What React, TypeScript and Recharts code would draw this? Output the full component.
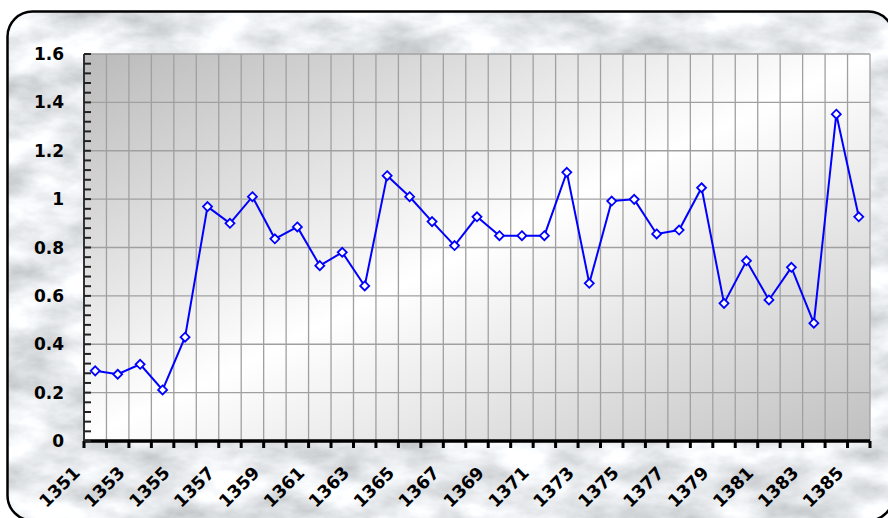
import React from 'react';
import { LineChart, Line, XAxis, YAxis, CartesianGrid } from 'recharts';

// years on the category axis
const years = [
  1351, 1352, 1353, 1354, 1355, 1356, 1357, 1358, 1359, 1360,
  1361, 1362, 1363, 1364, 1365, 1366, 1367, 1368, 1369, 1370,
  1371, 1372, 1373, 1374, 1375, 1376, 1377, 1378, 1379, 1380,
  1381, 1382, 1383, 1384, 1385,
];

// values
const values = [
  0.29, 0.276, 0.317, 0.211, 0.429, 0.969, 0.9, 1.01, 0.836, 0.885,
  0.725, 0.78, 0.641, 1.097, 1.01, 0.907, 0.808, 0.927, 0.849, 0.849,
  0.849, 1.111, 0.652, 0.992, 0.999, 0.856, 0.872, 1.047, 0.569, 0.745,
  0.583, 0.718, 0.487, 1.351, 0.927,
];

// every other year gets a label
const xLabelYears = [
  1351, 1353, 1355, 1357, 1359, 1361, 1363, 1365, 1367,
  1369, 1371, 1373, 1375, 1377, 1379, 1381, 1383, 1385,
];

const yMajorTicks = [0, 0.2, 0.4, 0.6, 0.8, 1, 1.2, 1.4, 1.6];
const yLabels = ['0', '0.2', '0.4', '0.6', '0.8', '1', '1.2', '1.4', '1.6'];

// minor marks every 0.04
const yMinorTicks: number[] = [];
for (let i = 0; i <= 40; i++) yMinorTicks.push(Math.round(i * 4) / 100);

// ticks sit on the boundaries between categories (Excel style)
const xTicks = years.map((y) => y - 0.5).concat([years[years.length - 1] + 0.5]);

const data = years.map((year, i) => ({ year, value: values[i] }));

const FONT = '"DejaVu Sans", "Liberation Sans", Arial, sans-serif';

const YTick = (props: any) => {
  const { x, y, payload } = props;
  const idx = yMajorTicks.findIndex((t) => Math.abs(t - payload.value) < 1e-6);
  return (
    <g>
      <line x1={x} y1={y} x2={x + 7} y2={y} stroke="#222" strokeWidth={2} />
      {idx >= 0 && (
        <text
          x={x - 20}
          y={y + 6}
          textAnchor="end"
          fontFamily={FONT}
          fontWeight="bold"
          fontSize={17}
          fill="#000"
        >
          {yLabels[idx]}
        </text>
      )}
    </g>
  );
};

const XTick = (props: any) => {
  const { x, y, payload } = props;
  const yr = Math.round(payload.value + 0.5);
  if (!xLabelYears.includes(yr)) return <g />;
  const ax = x - 3;
  const ay = y + 24;
  return (
    <text
      x={ax}
      y={ay}
      textAnchor="end"
      transform={`rotate(-45 ${ax} ${ay})`}
      fontFamily={FONT}
      fontWeight="bold"
      fontSize={17.5}
      fill="#000"
    >
      {yr}
    </text>
  );
};

const Diamond = (props: any) => {
  const { cx, cy } = props;
  if (cx == null || cy == null) return <g />;
  const r = 4.5;
  return (
    <path
      d={`M${cx},${cy - r} L${cx + r},${cy} L${cx},${cy + r} L${cx - r},${cy} Z`}
      fill="#ffffff"
      stroke="#0000ff"
      strokeWidth={1.8}
    />
  );
};

export default function App() {
  return (
    <div style={{ position: 'absolute', left: 0, top: 0, width: 888, height: 518, overflow: 'hidden', background: '#fff' }}>
      <svg width={888} height={518} style={{ position: 'absolute', left: 0, top: 0 }}>
        <defs>
          <filter id="marble" x="0" y="0" width="100%" height="100%">
            <feTurbulence type="fractalNoise" baseFrequency="0.016 0.03" numOctaves={5} seed={11} />
            <feColorMatrix
              type="matrix"
              values="0.8 0 0 0 0.41  0.8 0 0 0 0.43  0.8 0 0 0 0.45  0 0 0 0 1"
            />
          </filter>
          <clipPath id="frameClip">
            <rect x={7.5} y={11.5} width={886} height={509} rx={25} />
          </clipPath>
        </defs>
        <g clipPath="url(#frameClip)">
          <rect x={0} y={0} width={888} height={518} filter="url(#marble)" />
        </g>
        <rect x={7.5} y={11.5} width={886} height={509} rx={25} fill="none" stroke="#000" strokeWidth={2.5} />
      </svg>

      <div style={{ position: 'absolute', left: 0, top: 0 }}>
        <LineChart width={888} height={518} data={data} margin={{ top: 54, right: 18, left: 0, bottom: 0 }}>
          <defs>
            <linearGradient id="plotBg" x1="0" y1="0" x2="1" y2="1">
              <stop offset="0%" stopColor="#bababa" />
              <stop offset="50%" stopColor="#ffffff" />
              <stop offset="100%" stopColor="#c0c0c0" />
            </linearGradient>
          </defs>
          <CartesianGrid
            fill="url(#plotBg)"
            fillOpacity={1}
            stroke="#a0a0a0"
            strokeWidth={1.3}
            horizontalValues={yMajorTicks}
          />
          <XAxis
            dataKey="year"
            type="number"
            domain={[xTicks[0], xTicks[xTicks.length - 1]]}
            ticks={xTicks}
            interval={0}
            height={77}
            axisLine={{ stroke: '#000', strokeWidth: 3.5 }}
            tickLine={{ stroke: '#000', strokeWidth: 3 }}
            tickSize={7}
            tickMargin={2}
            tick={<XTick />}
            allowDataOverflow
          />
          <YAxis
            type="number"
            domain={[0, 1.6]}
            ticks={yMinorTicks}
            interval={0}
            width={84}
            axisLine={{ stroke: '#333', strokeWidth: 2 }}
            tickLine={false}
            tickSize={0}
            tickMargin={0}
            tick={<YTick />}
            allowDataOverflow
          />
          <Line
            type="linear"
            dataKey="value"
            stroke="#0000ff"
            strokeWidth={2}
            dot={<Diamond />}
            activeDot={false}
            isAnimationActive={false}
          />
        </LineChart>
      </div>
    </div>
  );
}
